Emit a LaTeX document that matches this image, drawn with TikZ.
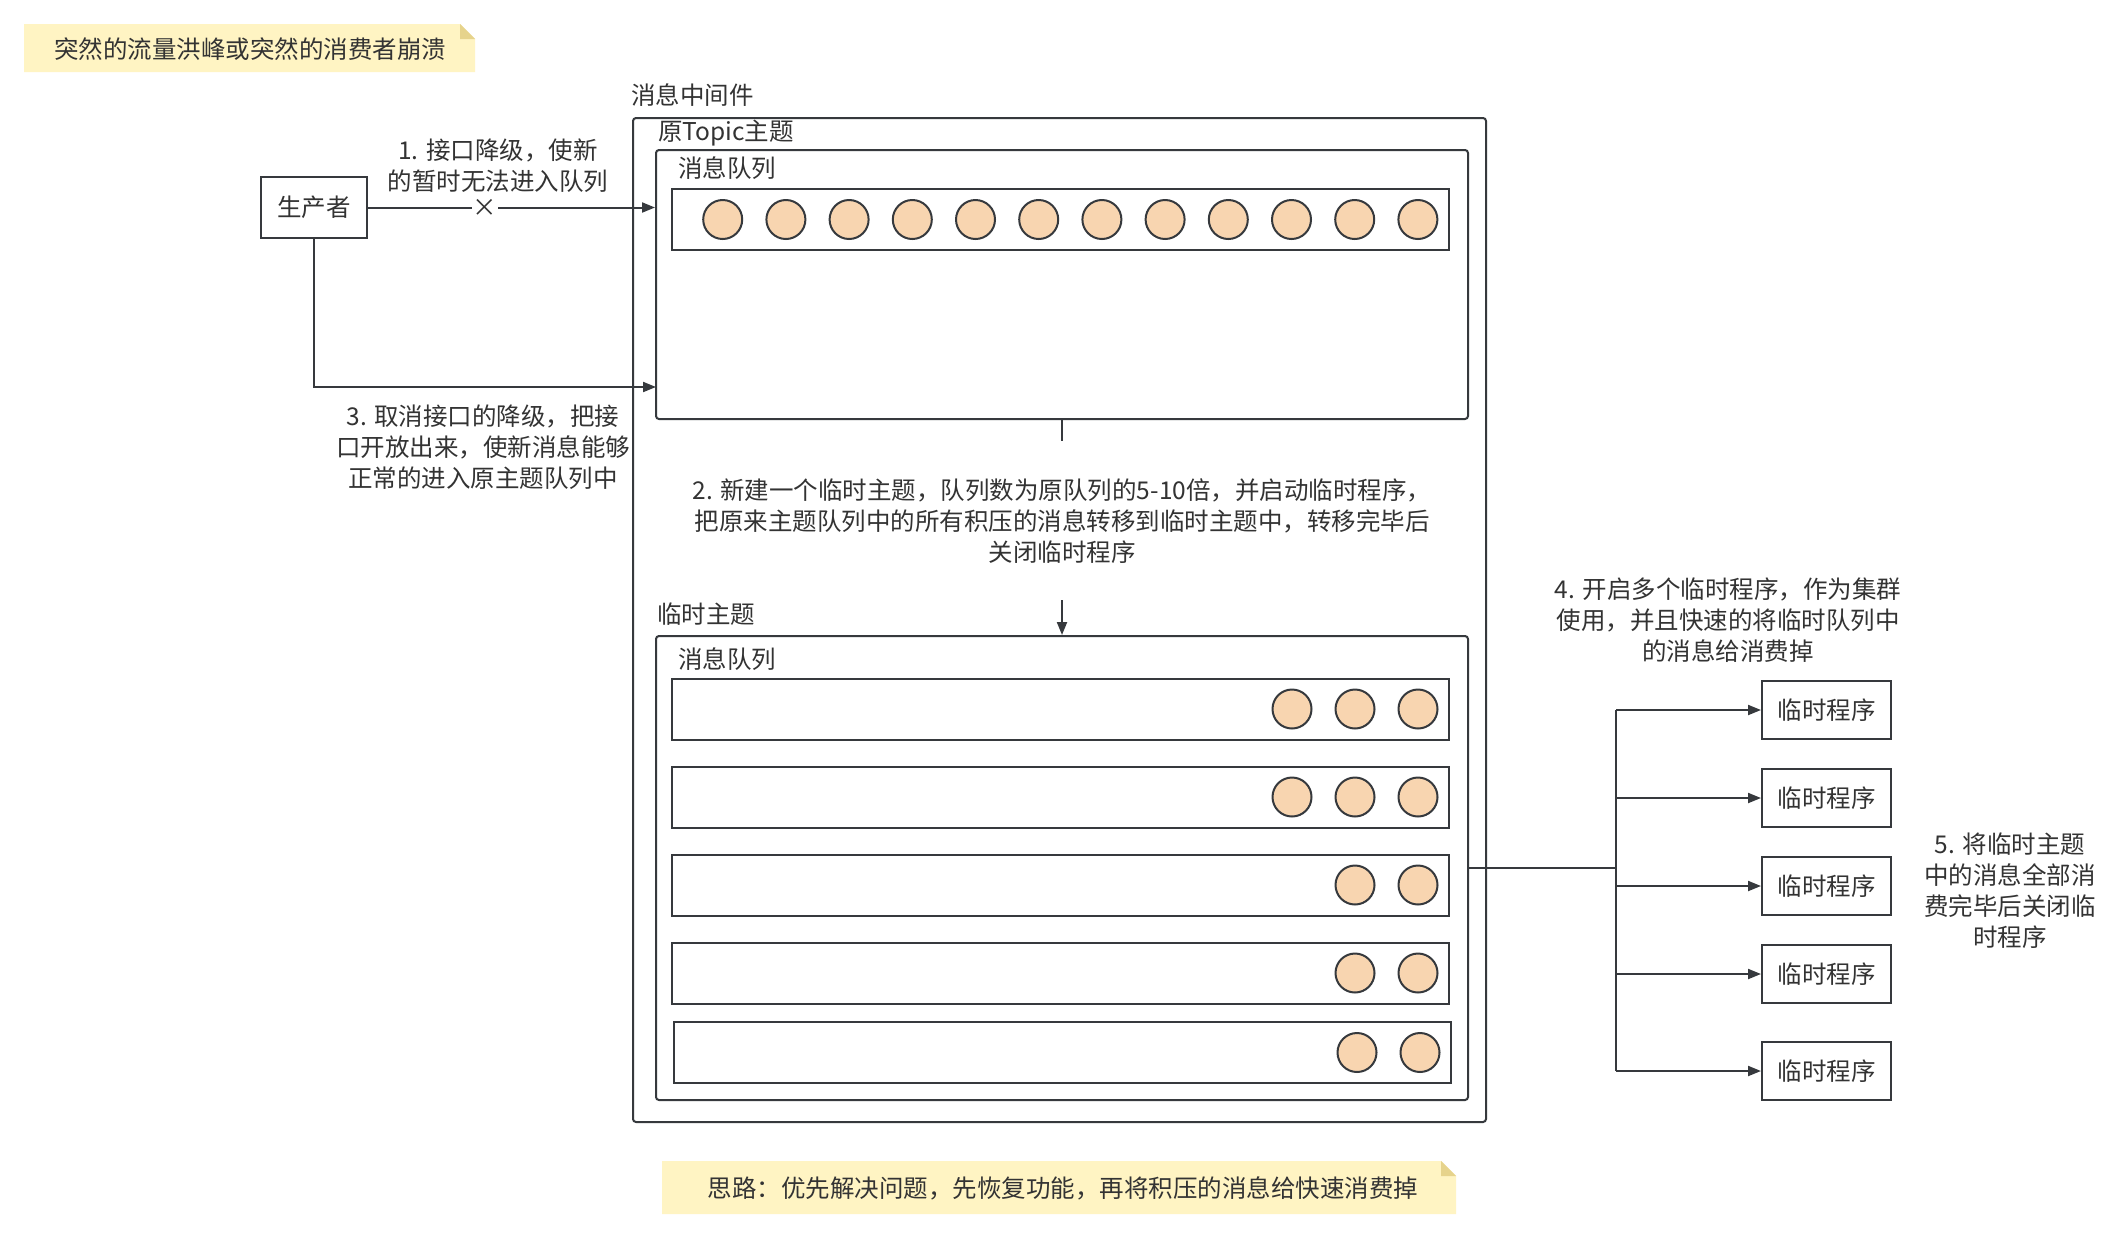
\documentclass[tikz,border=0pt]{standalone}
\usepackage{fontspec}
\setmainfont{Noto Sans CJK SC}
\usetikzlibrary{arrows.meta}
\definecolor{ln}{HTML}{36393D}
\definecolor{txt}{HTML}{333333}
\definecolor{msgfill}{HTML}{F8D5B0}
\definecolor{notefill}{HTML}{FFF4C3}
\definecolor{foldfill}{HTML}{E6D38C}
\begin{document}
\begin{tikzpicture}[x=1pt,y=-1pt,
  every node/.style={font=\fontsize{24.5}{31}\selectfont, text=txt},
  frame/.style={draw=ln, line width=2pt, rounded corners=3pt, inner sep=0pt},
  bar/.style={draw=ln, line width=2pt, fill=white, inner sep=0pt, minimum width=777pt, minimum height=61pt},
  msgc/.style={circle, draw=ln, line width=2pt, fill=msgfill, inner sep=0pt, minimum size=39pt},
  pbox/.style={draw=ln, line width=2pt, fill=white, inner sep=0pt},
  lbl/.style={align=center, inner sep=0pt},
  ttl/.style={anchor=west, inner sep=0pt},
  arr/.style={draw=ln, line width=2pt, -{Triangle[length=13pt,width=10pt]}},
  con/.style={draw=ln, line width=2pt}]
\fill[white] (0,0) rectangle (2122,1240);
\useasboundingbox (0,0) rectangle (2122,1240);

% top note
\fill[notefill] (24,24) -- (460,24) -- (475,39) -- (475,72) -- (24,72) -- cycle;
\fill[foldfill] (460,24) -- (475,39) -- (460,39) -- cycle;
\node[lbl] (topnote) at (250,49) {突然的流量洪峰或突然的消费者崩溃};

% middleware
\node[ttl] (mwt) at (631,95) {消息中间件};
\node[frame, minimum width=853pt, minimum height=1004pt] (mw) at (1059.5,620) {};

% original topic
\node[ttl] (ott) at (658,133) {原Topic主题};
\node[frame, fill=white, minimum width=812pt, minimum height=269pt] (orig) at (1062,284.5) {};
\node[ttl] (oqt) at (678,168) {消息队列};
\node[bar] (oq) at (1060.5,219.5) {};
\foreach \i in {1,...,12} \node[msgc] (oc\i) at ({659.5+63.2*\i},219.5) {};

% temp topic
\node[ttl] (ttt) at (657,614) {临时主题};
\node[frame, fill=white, minimum width=812pt, minimum height=464pt] (tmp) at (1062,868) {};
\node[ttl] (tqt) at (678,659) {消息队列};
\node[bar] (tq1) at (1060.5,709) {};
\node[bar] (tq2) at (1060.5,797) {};
\node[bar] (tq3) at (1060.5,885) {};
\node[bar] (tq4) at (1060.5,973) {};
\node[bar] (tq5) at (1062,1052.5) {};
\foreach \x [count=\k] in {1292,1355,1418} {
  \node[msgc] (ta\k) at (\x,709) {};
  \node[msgc] (tb\k) at (\x,797) {};
}
\foreach \x [count=\k] in {1355,1418} {
  \node[msgc] (tc\k) at (\x,885) {};
  \node[msgc] (td\k) at (\x,973) {};
}
\foreach \x [count=\k] in {1357,1420} \node[msgc] (te\k) at (\x,1052.5) {};

% producer
\node[pbox, minimum width=106pt, minimum height=61pt] (prod) at (314,207.5) {生产者};

% step 1
\draw[arr] (prod.east) -- node[pos=0.408, fill=white, inner sep=1pt] (xmark) {×} (orig.west |- prod.east);
\node[lbl] (l1) at (498,166) {1. 接口降级，使新\\的暂时无法进入队列};

% step 3
\coordinate (in3) at (656,387);
\draw[arr] (prod.south) |- (in3);
\node[lbl] (l3) at (483,447) {3. 取消接口的降级，把接\\口开放出来，使新消息能够\\正常的进入原主题队列中};

% step 2
\draw[arr] (orig.south) -- node[pos=0.468, fill=white, lbl, minimum height=159pt] (l2)
  {2. 新建一个临时主题，队列数为原队列的5-10倍，并启动临时程序，\\把原来主题队列中的所有积压的消息转移到临时主题中，转移完毕后\\关闭临时程序} (tmp.north);

% step 4: temp programs
\node[pbox, minimum width=129pt, minimum height=58pt] (p1) at (1826.5,710) {临时程序};
\node[pbox, minimum width=129pt, minimum height=58pt] (p2) at (1826.5,798) {临时程序};
\node[pbox, minimum width=129pt, minimum height=58pt] (p3) at (1826.5,886) {临时程序};
\node[pbox, minimum width=129pt, minimum height=58pt] (p4) at (1826.5,974) {临时程序};
\node[pbox, minimum width=129pt, minimum height=58pt] (p5) at (1826.5,1071) {临时程序};
\coordinate (jn) at (1616,868);
\draw[con] (tmp.east) -- (jn);
\draw[con] (jn |- p1.west) -- (jn |- p5.west);
\foreach \i in {1,...,5} \draw[arr] (jn |- p\i.west) -- (p\i.west);
\node[lbl] (l4) at (1728,620) {4. 开启多个临时程序，作为集群\\使用，并且快速的将临时队列中\\的消息给消费掉};
\node[lbl] (l5) at (2010,891) {5. 将临时主题\\中的消息全部消\\费完毕后关闭临\\时程序};

% bottom note
\fill[notefill] (662,1161) -- (1441,1161) -- (1456,1176) -- (1456,1214) -- (662,1214) -- cycle;
\fill[foldfill] (1441,1161) -- (1456,1176) -- (1441,1176) -- cycle;
\node[lbl] (botnote) at (1063,1188) {思路：优先解决问题，先恢复功能，再将积压的消息给快速消费掉};
\end{tikzpicture}
\end{document}
